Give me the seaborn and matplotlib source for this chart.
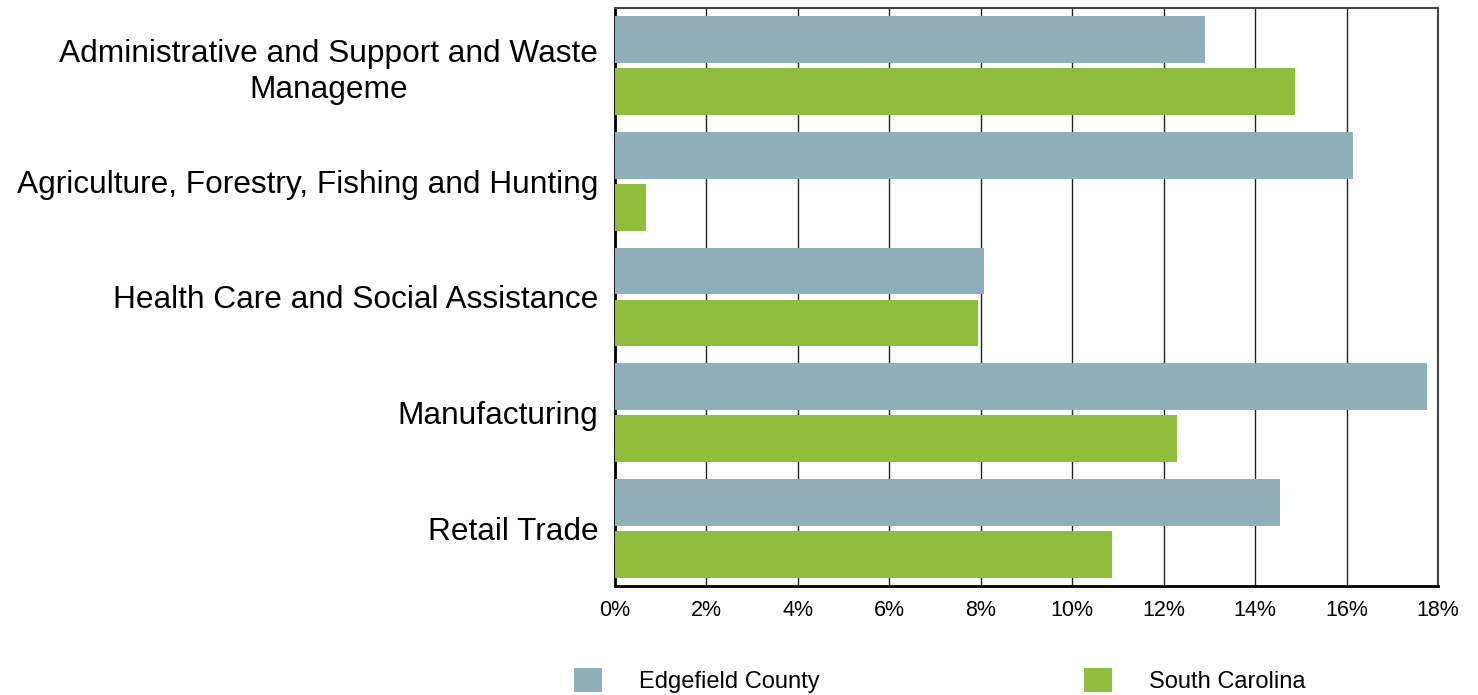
import numpy as np
import pandas as pd
import matplotlib
matplotlib.use("Agg")
import matplotlib.pyplot as plt
import seaborn as sns
from matplotlib.ticker import FuncFormatter
from matplotlib.patches import Patch

# ---- data (percent of employment) ----
industries = [
    "Administrative and Support and Waste\nManageme",
    "Agriculture, Forestry, Fishing and Hunting",
    "Health Care and Social Assistance",
    "Manufacturing",
    "Retail Trade",
]
edgefield = [12.9, 16.15, 8.08, 17.76, 14.55]
south_carolina = [14.88, 0.68, 7.93, 12.30, 10.86]
areas = ["Edgefield County", "South Carolina"]
colors = ["#8FAFBA", "#8EBE3C"]
x_ticks = [0, 2, 4, 6, 8, 10, 12, 14, 16, 18]

df = pd.DataFrame({
    "industry": industries * 2,
    "area": [areas[0]] * len(industries) + [areas[1]] * len(industries),
    "pct": edgefield + south_carolina,
})

sns.set_style("white")
plt.rcParams['font.family'] = ['Liberation Sans', 'DejaVu Sans']
plt.rcParams['text.color'] = 'black'
plt.rcParams['xtick.color'] = 'black'
plt.rcParams['ytick.color'] = 'black'

fig = plt.figure(figsize=(14.78, 6.95), dpi=100)
ax = fig.add_axes([615 / 1478, 1 - 586 / 695, (1438 - 615) / 1478, (586 - 8) / 695])

sns.barplot(data=df, y="industry", x="pct", hue="area", palette=colors,
            orient="h", width=0.9, gap=0.1, saturation=1, ax=ax, legend=False,
            linewidth=0, zorder=3)

ax.set_xlim(0, 18)
ax.set_xticks(x_ticks)
ax.xaxis.set_major_formatter(FuncFormatter(lambda v, p: f"{v:.0f}%"))
ax.set_xlabel("")
ax.set_ylabel("")
ax.grid(axis="x", color="#222222", linewidth=1.0, zorder=0)
ax.set_axisbelow(True)
ax.tick_params(axis="x", length=0, pad=10, labelsize=15.5, labelcolor="black")
ax.tick_params(axis="y", length=0, pad=12, labelsize=22.8, labelcolor="black")
for lbl in ax.get_yticklabels():
    lbl.set_multialignment("center")
    lbl.set_linespacing(1.25)

for side in ["left", "bottom"]:
    ax.spines[side].set_color("#000000")
    ax.spines[side].set_linewidth(2.0)
for side in ["top", "right"]:
    ax.spines[side].set_color("#444444")
    ax.spines[side].set_linewidth(1.5)

# legend below the chart
handles = [Patch(facecolor=c, edgecolor="none") for c in colors]
fig.legend(handles, areas, loc="center left", bbox_to_anchor=(574 / 1478, 0.021),
           ncol=2, frameon=False, fontsize=17, handlelength=1.2, handleheight=1.2,
           handletextpad=1.55, columnspacing=11.2, borderpad=0, borderaxespad=0)

fig.savefig("out.png", dpi=100)
